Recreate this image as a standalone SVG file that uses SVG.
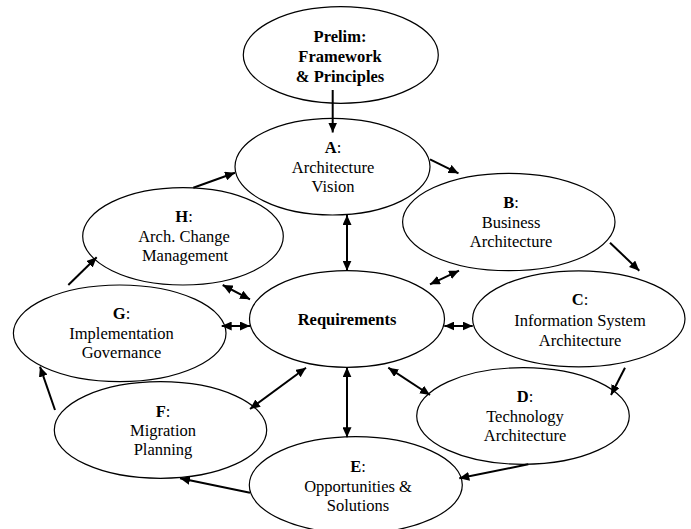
<svg xmlns="http://www.w3.org/2000/svg" width="691" height="529" viewBox="0 0 691 529">
<style>
.n ellipse{fill:#fff;stroke:#000;stroke-width:1.2}
text{font-family:'Liberation Serif','Times New Roman',serif;font-size:16.5px;fill:#000;text-anchor:middle}
.b{font-weight:bold}
.c line{stroke:#000;stroke-width:2}
</style>
<defs>
<marker id="ah" viewBox="0 0 10 9" refX="10" refY="4.5" markerWidth="10" markerHeight="9" markerUnits="userSpaceOnUse" orient="auto-start-reverse">
<path d="M0,0 L10,4.5 L0,9 z" fill="#000"/>
</marker>
</defs>
<rect width="691" height="529" fill="#fff"/>
<g id="prelim" class="n">
<ellipse cx="340.8" cy="55" rx="97.5" ry="48.3"/>
<text class="b" x="340" y="42">Prelim:</text>
<text class="b" x="340" y="62">Framework</text>
<text class="b" x="340" y="81.5">&amp; Principles</text>
</g>
<g id="a" class="n">
<ellipse cx="332.5" cy="166.7" rx="97.5" ry="48.3"/>
<text x="333" y="153"><tspan class="b">A</tspan>:</text>
<text x="333" y="172.5">Architecture</text>
<text x="333" y="192">Vision</text>
</g>
<g id="b" class="n">
<ellipse cx="508.8" cy="222" rx="106.2" ry="48.7"/>
<text x="511" y="208.3"><tspan class="b">B</tspan>:</text>
<text x="511" y="227.8">Business</text>
<text x="511" y="247.3">Architecture</text>
</g>
<g id="h" class="n">
<ellipse cx="183" cy="236.3" rx="100.3" ry="48.7"/>
<text x="184" y="221.7"><tspan class="b">H</tspan>:</text>
<text x="184" y="241.5">Arch. Change</text>
<text x="185" y="261">Management</text>
</g>
<g id="req" class="n">
<ellipse cx="347" cy="319" rx="97.5" ry="48.3"/>
<text class="b" x="347" y="325">Requirements</text>
</g>
<g id="g" class="n">
<ellipse cx="119.7" cy="333.3" rx="106.3" ry="48.3"/>
<text x="121.5" y="319"><tspan class="b">G</tspan>:</text>
<text x="121.5" y="339">Implementation</text>
<text x="121.5" y="358.3">Governance</text>
</g>
<g id="c" class="n">
<ellipse cx="578.8" cy="318.8" rx="106.2" ry="48"/>
<text x="580" y="305"><tspan class="b">C</tspan>:</text>
<text x="580" y="326">Information System</text>
<text x="580" y="345.5">Architecture</text>
</g>
<g id="f" class="n">
<ellipse cx="160.5" cy="430" rx="106.2" ry="48.3"/>
<text x="163" y="416.7"><tspan class="b">F</tspan>:</text>
<text x="163" y="436">Migration</text>
<text x="163" y="455">Planning</text>
</g>
<g id="d" class="n">
<ellipse cx="523" cy="416" rx="106.3" ry="48.3"/>
<text x="525" y="401.7"><tspan class="b">D</tspan>:</text>
<text x="525" y="421.5">Technology</text>
<text x="525" y="441">Architecture</text>
</g>
<g id="e" class="n">
<ellipse cx="355.8" cy="485" rx="106.5" ry="48.3"/>
<text x="358" y="471.7"><tspan class="b">E</tspan>:</text>
<text x="358" y="491.5">Opportunities &amp;</text>
<text x="358" y="511">Solutions</text>
</g>
<g id="connectors" class="c">
<line x1="332.7" y1="90" x2="332.7" y2="132.5" marker-end="url(#ah)"/>
<line x1="430" y1="159.3" x2="458.5" y2="173.3" marker-end="url(#ah)"/>
<line x1="610" y1="242.7" x2="639.3" y2="270.7" marker-end="url(#ah)"/>
<line x1="625" y1="367.7" x2="611" y2="395" marker-end="url(#ah)"/>
<line x1="528.3" y1="464.3" x2="459.3" y2="478.3" marker-end="url(#ah)"/>
<line x1="250" y1="492.7" x2="180" y2="478.3" marker-end="url(#ah)"/>
<line x1="55" y1="410" x2="40" y2="366.7" marker-end="url(#ah)"/>
<line x1="68.3" y1="285" x2="96.7" y2="257.3" marker-end="url(#ah)"/>
<line x1="193.3" y1="187.7" x2="235" y2="172.7" marker-end="url(#ah)"/>
<line x1="347" y1="215" x2="347" y2="270.7" marker-start="url(#ah)" marker-end="url(#ah)"/>
<line x1="347" y1="367.3" x2="347" y2="437.3" marker-start="url(#ah)" marker-end="url(#ah)"/>
<line x1="430" y1="284.3" x2="459" y2="270.7" marker-start="url(#ah)" marker-end="url(#ah)"/>
<line x1="444.3" y1="326" x2="472.7" y2="326" marker-start="url(#ah)" marker-end="url(#ah)"/>
<line x1="388.3" y1="367.7" x2="430" y2="395" marker-start="url(#ah)" marker-end="url(#ah)"/>
<line x1="250" y1="409" x2="306" y2="367.7" marker-start="url(#ah)" marker-end="url(#ah)"/>
<line x1="221.7" y1="326" x2="250" y2="326" marker-start="url(#ah)" marker-end="url(#ah)"/>
<line x1="222.7" y1="285" x2="250" y2="299.3" marker-start="url(#ah)" marker-end="url(#ah)"/>
</g>
</svg>
